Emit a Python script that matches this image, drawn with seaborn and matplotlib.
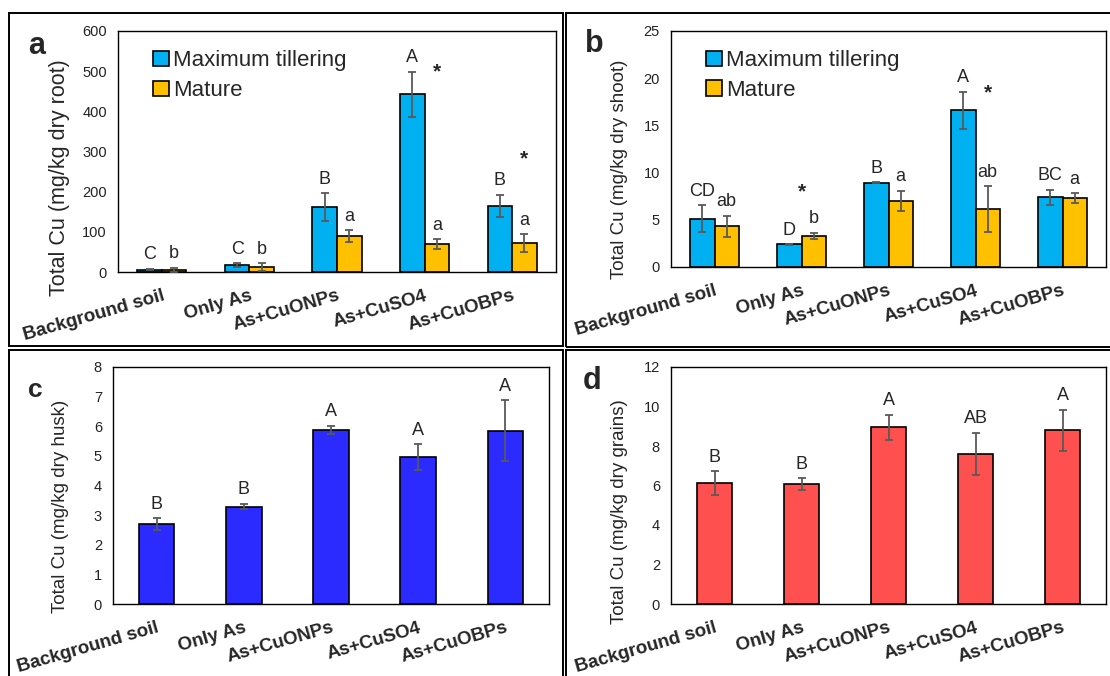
import numpy as np
import pandas as pd
import matplotlib
matplotlib.use("Agg")
import matplotlib.pyplot as plt
import seaborn as sns
from matplotlib.patches import Rectangle

# ---------------- data ----------------
categories = ["Background soil", "Only As", "As+CuONPs", "As+CuSO4", "As+CuOBPs"]
stages = ["Maximum tillering", "Mature"]

root_mt = [6, 17, 162, 442, 164]
root_mt_err = [2, 5, 34, 56, 28]
root_ma = [6, 12, 89, 69, 72]
root_ma_err = [5, 10, 15, 12, 22]
root_letters_mt = ["C", "C", "B", "A", "B"]
root_letters_ma = ["b", "b", "a", "a", "a"]

shoot_mt = [5.13, 2.39, 8.93, 16.6, 7.38]
shoot_mt_err = [1.4, 0.04, 0.04, 1.97, 0.8]
shoot_ma = [4.33, 3.27, 7.0, 6.15, 7.31]
shoot_ma_err = [1.1, 0.35, 1.07, 2.4, 0.5]
shoot_letters_mt = ["CD", "D", "B", "A", "BC"]
shoot_letters_ma = ["ab", "b", "a", "ab", "a"]

husk = [2.69, 3.29, 5.88, 4.96, 5.85]
husk_err = [0.2, 0.1, 0.14, 0.43, 1.02]
husk_letters = ["B", "B", "A", "A", "A"]

grain = [6.12, 6.06, 8.94, 7.6, 8.79]
grain_err = [0.6, 0.3, 0.65, 1.07, 1.03]
grain_letters = ["B", "B", "A", "AB", "A"]

# asterisks: (category index, stage index or None for group centre, y value)
root_stars = [(3, 1, 498), (4, 1, 282)]
shoot_stars = [(1, None, 8.0), (3, 1, 18.4)]

BLUE = "#00B0F0"
ORANGE = "#FFC000"
HUSK = "#2B2BFF"
GRAIN = "#FF5050"
ERR = "#595959"

# ---------------- style ----------------
sns.set_style("white")
plt.rcParams["font.family"] = ["Liberation Sans", "DejaVu Sans"]

W, H = 1110, 676
fig = plt.figure(figsize=(W / 100, H / 100), dpi=100)


def px_axes(l, t, r, b):
    return fig.add_axes([l / W, 1 - b / H, (r - l) / W, (b - t) / H])


def style_axes(ax, ylim, yticks, ylabel, ylabel_size, label_xy):
    ax.set_ylim(*ylim)
    ax.set_yticks(yticks)
    ax.set_xlim(-0.5, len(categories) - 0.5)
    for s in ax.spines.values():
        s.set_visible(True)
        s.set_color("black")
        s.set_linewidth(1.0)
    ax.tick_params(axis="y", length=0, pad=8, labelsize=10.5, labelcolor="#222222")
    ax.tick_params(axis="x", length=0, pad=11)
    ax.set_xticks(range(len(categories)))
    ax.set_xticklabels(categories, rotation=16, ha="right", rotation_mode="anchor",
                       fontweight="bold", fontsize=13.5)
    ax.set_xlabel("")
    ax.set_ylabel(ylabel, fontsize=ylabel_size)
    ax.yaxis.set_label_coords(*label_xy)


def add_err_and_letter(ax, bar, e, letter):
    xc = bar.get_x() + bar.get_width() / 2
    h = bar.get_height()
    ax.errorbar(xc, h, yerr=e, color=ERR, elinewidth=1.3, capsize=3, capthick=1.3, zorder=5)
    ax.annotate(letter, (xc, h + e), xytext=(0, 4), textcoords="offset points",
                ha="center", va="bottom", fontsize=13)


def grouped(ax, mt, mt_err, ma, ma_err, let_mt, let_ma, stars):
    df = pd.DataFrame({
        "cat": categories * 2,
        "stage": [stages[0]] * len(categories) + [stages[1]] * len(categories),
        "val": list(mt) + list(ma),
    })
    sns.barplot(data=df, x="cat", y="val", hue="stage", order=categories, hue_order=stages,
                palette=[BLUE, ORANGE], saturation=1, width=0.56, edgecolor="black",
                linewidth=1.2, errorbar=None, ax=ax)
    for cont, errs, lets in zip(ax.containers, [mt_err, ma_err], [let_mt, let_ma]):
        for bar, e, l in zip(cont, errs, lets):
            add_err_and_letter(ax, bar, e, l)
    for ci, si, yv in stars:
        if si is None:
            b0 = ax.containers[0][ci]
            b1 = ax.containers[1][ci]
            xc = (b0.get_x() + b1.get_x() + b1.get_width()) / 2
        else:
            b = ax.containers[si][ci]
            xc = b.get_x() + b.get_width() / 2
        ax.text(xc, yv, "*", ha="center", va="center", fontsize=15, fontweight="bold")
    ax.legend(loc="upper left", bbox_to_anchor=(0.045, 0.985), frameon=False,
              fontsize=16, handlelength=0.7, handleheight=0.7, handletextpad=0.2,
              labelspacing=0.4, borderpad=0.2)


def single(ax, vals, errs, lets, color):
    sns.barplot(x=categories, y=vals, order=categories, color=color, saturation=1,
                width=0.41, edgecolor="black", linewidth=1.2, errorbar=None, ax=ax)
    for bar, e, l in zip(ax.containers[0], errs, lets):
        add_err_and_letter(ax, bar, e, l)


# ---------------- panel frames ----------------
for (l, t, r, b) in [(9, 13, 563, 346), (566, 13, 1115, 347), (9, 350, 563, 680), (566, 350, 1115, 680)]:
    fig.add_artist(Rectangle((l / W, 1 - b / H), (r - l) / W, (b - t) / H,
                             transform=fig.transFigure, fill=False, edgecolor="black",
                             linewidth=1.4))

# ---------------- panels ----------------
ax_a = px_axes(118, 31, 556, 272)
grouped(ax_a, root_mt, root_mt_err, root_ma, root_ma_err, root_letters_mt, root_letters_ma, root_stars)
style_axes(ax_a, (0, 600), range(0, 601, 100), "Total Cu (mg/kg dry root)", 15.5, (-0.11, 0.39))

ax_b = px_axes(671, 31, 1106, 267)
grouped(ax_b, shoot_mt, shoot_mt_err, shoot_ma, shoot_ma_err, shoot_letters_mt, shoot_letters_ma, shoot_stars)
style_axes(ax_b, (0, 25), range(0, 26, 5), "Total Cu (mg/kg dry shoot)", 13.5, (-0.1, 0.415))

ax_c = px_axes(113, 367, 549, 604)
single(ax_c, husk, husk_err, husk_letters, HUSK)
style_axes(ax_c, (0, 8), range(0, 9, 1), "Total Cu (mg/kg dry husk)", 13.5, (-0.1, 0.41))

ax_d = px_axes(671, 367, 1106, 604)
single(ax_d, grain, grain_err, grain_letters, GRAIN)
style_axes(ax_d, (0, 12), range(0, 13, 2), "Total Cu (mg/kg dry grains)", 13.5, (-0.1, 0.39))

# panel letters
for txt, x, y, fs in [("a", 28, 46, 22), ("b", 585, 44, 22), ("c", 28, 390, 19), ("d", 583, 381, 22)]:
    fig.text(x / W, 1 - y / H, txt, fontsize=fs, fontweight="bold", ha="left", va="center")

fig.savefig("out.png", dpi=100)
